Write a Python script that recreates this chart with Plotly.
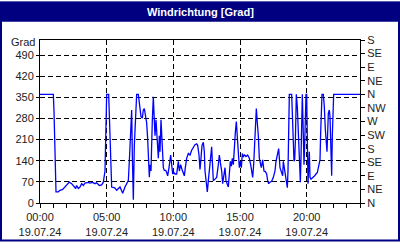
import plotly.graph_objects as go
import pandas as pd

hours = [0, 1.0, 1.05, 1.12, 1.2, 1.375, 1.5, 1.7, 1.875, 2.0, 2.2, 2.375, 2.5, 2.675, 2.75, 2.875,
         3.0, 3.125, 3.25, 3.375, 3.625, 3.75, 3.95, 4.125, 4.25, 4.45, 4.625, 4.75, 4.875, 4.95,
         5.0, 5.15, 5.2, 5.3, 5.375, 5.6, 5.75,
         6.0, 6.2, 6.375, 6.5, 6.625, 6.7, 6.8, 6.875, 6.925, 7.0, 7.075, 7.125, 7.2, 7.25, 7.375,
         7.425, 7.5, 7.575, 7.675, 7.75, 7.825, 7.9, 8.0, 8.075, 8.125, 8.2, 8.25, 8.325, 8.425,
         8.5, 8.55, 8.625, 8.7, 8.8, 8.875, 8.95, 9.0, 9.075, 9.15, 9.25, 9.325, 9.425, 9.5, 9.575,
         9.675, 9.8, 9.875, 9.95, 10.05, 10.125, 10.25, 10.375, 10.45, 10.55, 10.65, 10.75, 10.825,
         10.9, 11.0, 11.125, 11.25, 11.375, 11.5, 11.625, 11.75, 11.825, 11.925,
         12.0, 12.075, 12.15, 12.25, 12.325, 12.375, 12.45, 12.55, 12.625, 12.7, 12.8, 12.875,
         12.925, 13.0, 13.125, 13.25, 13.375, 13.45, 13.55, 13.625, 13.7, 13.8, 13.875, 13.95,
         14.05, 14.125, 14.2, 14.275, 14.35, 14.425, 14.5, 14.575, 14.65, 14.725, 14.8, 14.875,
         14.95, 15.025, 15.1, 15.175, 15.25, 15.35, 15.45, 15.575, 15.7, 15.8, 15.9, 15.95, 16.025,
         16.075, 16.15, 16.225, 16.3, 16.375, 16.45, 16.525, 16.6, 16.7, 16.8, 16.9, 17.0, 17.075,
         17.15, 17.25, 17.375, 17.5, 17.625, 17.7, 17.8, 17.9,
         18.0, 18.125, 18.2, 18.25, 18.325, 18.4, 18.5, 18.55, 18.6, 18.65, 18.7, 18.875, 18.925,
         18.975, 19.0, 19.05, 19.1, 19.15, 19.175, 19.225, 19.3, 19.35, 19.4, 19.425, 19.475,
         19.525, 19.575, 19.625, 19.675, 19.75, 19.8, 19.85, 19.9, 19.95, 20.0, 20.05, 20.1,
         20.15, 20.2, 20.25, 20.325, 20.4, 20.5, 20.6, 20.7, 20.8, 20.9, 21.0, 21.05, 21.1, 21.15,
         21.25, 21.325, 21.4, 21.45, 21.525, 21.575, 21.625, 21.7, 21.75, 21.825, 21.875, 21.925,
         21.975, 22.025, 24.0]

direction = [360, 360, 305, 196, 37, 37, 42, 45, 53, 58, 69, 64, 58, 48, 58, 48,
             53, 64, 58, 66, 68, 66, 68, 64, 67, 58, 60, 69, 106, 308,
             360, 360, 281, 138, 53, 50, 42,
             53, 32, 53, 64, 74, 138, 249, 308, 159, 11, 191, 233, 318, 360, 360,
             339, 297, 286, 281, 308, 313, 286, 265, 212, 159, 85, 127, 106, 276,
             352, 297, 223, 276, 170, 148, 223, 170, 276, 212, 117, 108, 108, 101, 90,
             117, 159, 127, 96, 101, 96, 96, 138, 106, 127, 111, 101, 90,
             117, 148, 164, 159, 175, 186, 193, 196, 191, 159,
             111, 148, 191, 201, 170, 106, 64, 37, 74, 106, 154, 186,
             138, 74, 79, 85, 127, 159, 127, 106, 64, 96, 117, 74,
             64, 53, 96, 138, 122, 148, 127, 191, 233, 270, 223, 170,
             117, 138, 117, 164, 154, 159, 154, 159, 148, 127, 101, 85, 127,
             191, 254, 313, 265, 223, 148, 127, 117, 143, 106, 104, 96, 74,
             64, 69, 72, 85, 106, 138, 164, 180,
             117, 96, 90, 138, 117, 96, 74, 51, 106, 212, 360, 360, 308,
             244, 191, 138, 143, 201, 297, 360, 318, 249, 191, 138, 117,
             69, 148, 286, 360, 223, 127, 191, 318, 360, 360, 170, 64,
             117, 170, 85, 79, 82, 85, 90, 96, 101, 122, 143, 233, 308, 360,
             360, 318, 244, 212, 170, 233, 297, 308, 286, 170, 90, 223,
             308, 360, 360]

grad_ticks = [0, 70, 140, 210, 280, 350, 420, 490]
compass_vals = [0, 45, 90, 135, 180, 225, 270, 315, 360, 405, 450, 495, 540]
compass_labels = ["N", "NE", "E", "SE", "S", "SW", "W", "NW", "N", "NE", "E", "SE", "S"]
title_text = "Windrichtung [Grad]"
unit_label = "Grad"

base = pd.Timestamp("2024-07-19 00:00")
times = [base + pd.Timedelta(hours=h) for h in hours]
end = base + pd.Timedelta(hours=24)

tick_font = dict(family="Liberation Sans, Arial, sans-serif", size=11, color="#222222")
NAVY = "#000080"

fig = go.Figure()
fig.add_trace(go.Scatter(x=times, y=direction, mode="lines",
                         line=dict(color="#0000FF", width=1.3),
                         showlegend=False, hoverinfo="skip"))
fig.add_trace(go.Scatter(x=[times[0]], y=[0], yaxis="y2", mode="markers",
                         marker=dict(opacity=0), showlegend=False, hoverinfo="skip"))

fig.update_layout(
    width=400, height=250,
    margin=dict(l=40, r=40, t=40, b=40),
    paper_bgcolor="white", plot_bgcolor="white",
    xaxis=dict(type="date", range=[base, end], tickmode="linear", tick0=base,
               dtick=5 * 3600000, tickformat="%H:%M<br>%d.%m.%y",
               ticks="outside", ticklen=4, tickcolor="black", tickwidth=1,
               showgrid=True, gridcolor="black", griddash="5px,3px", gridwidth=1,
               showline=True, linecolor="black", linewidth=1, mirror=True,
               zeroline=False, tickfont=tick_font,
               minor=dict(dtick=3600000, tick0=base, ticks="outside", ticklen=4,
                          tickcolor="black", showgrid=False)),
    yaxis=dict(range=[0, 540], tickmode="array", tickvals=grad_ticks,
               ticks="outside", ticklen=3, tickcolor="black",
               showgrid=True, gridcolor="black", griddash="5px,3px", gridwidth=1,
               showline=True, linecolor="black", linewidth=1, mirror=True,
               zeroline=False, tickfont=tick_font),
    yaxis2=dict(range=[0, 540], overlaying="y", side="right", anchor="x",
                tickmode="array", tickvals=compass_vals, ticktext=compass_labels,
                ticks="outside", ticklen=4, tickcolor="black",
                showgrid=False, showline=True, linecolor="black", linewidth=1,
                zeroline=False, tickfont=tick_font),
    shapes=[
        dict(type="rect", xref="paper", yref="paper",
             x0=-40 / 320, x1=360 / 320, y0=(210 - 21) / 170, y1=210 / 170,
             fillcolor=NAVY, line=dict(width=0), layer="above"),
        dict(type="rect", xref="paper", yref="paper",
             x0=-39 / 320, x1=359 / 320, y0=(210 - 249) / 170, y1=209 / 170,
             fillcolor="rgba(0,0,0,0)", line=dict(color=NAVY, width=2), layer="above"),
    ],
    annotations=[
        dict(text="<b>" + title_text + "</b>", xref="paper", yref="paper",
             x=0.5, y=(210 - 10.5) / 170, xanchor="center", yanchor="middle",
             showarrow=False,
             font=dict(family="Liberation Sans, Arial, sans-serif", size=11, color="white")),
        dict(text=unit_label, xref="paper", yref="y", x=-4 / 320, y=534,
             xanchor="right", yanchor="middle", showarrow=False, borderpad=0,
             font=tick_font),
    ],
)

fig.write_html("out.html")
